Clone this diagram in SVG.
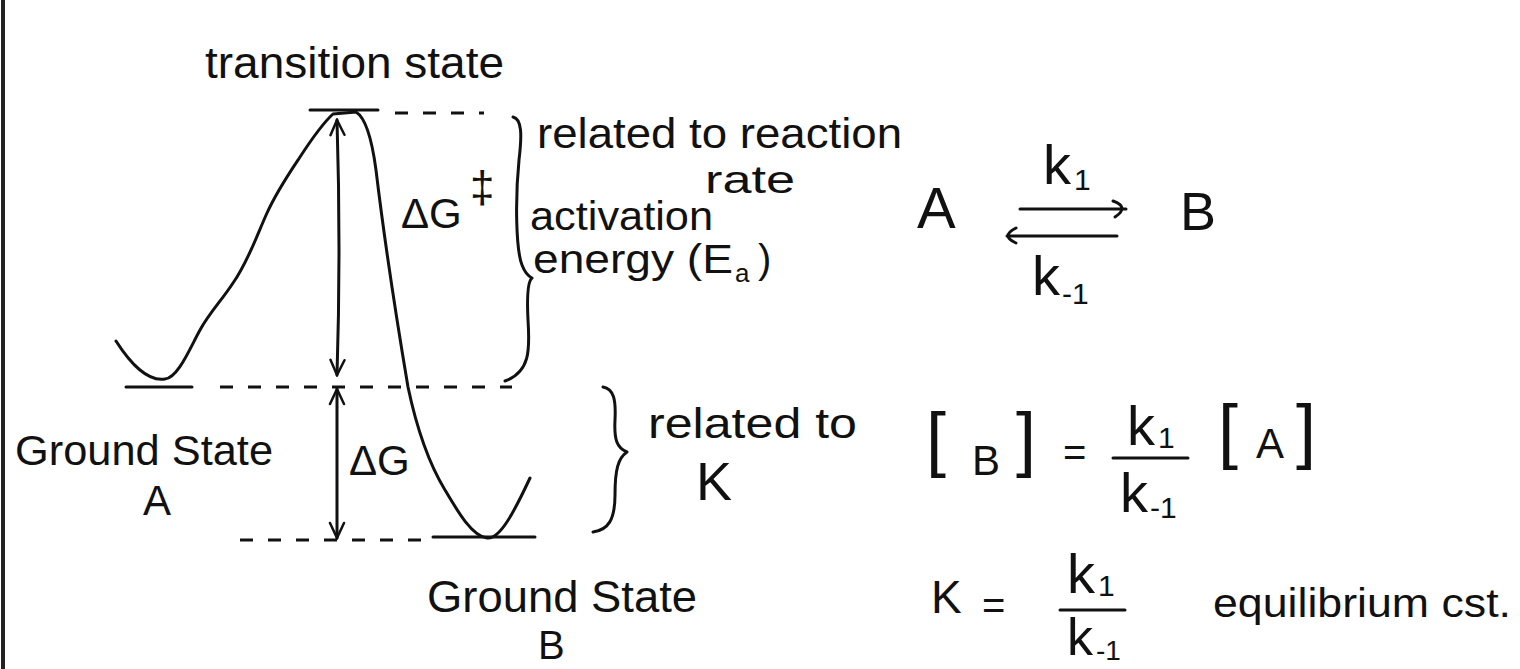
<svg xmlns="http://www.w3.org/2000/svg" width="1520" height="669" viewBox="0 0 1520 669">
<style>
.ln{fill:none;stroke:#111;stroke-width:3;stroke-linecap:round;stroke-linejoin:round}
.ds{fill:none;stroke:#111;stroke-width:3;stroke-dasharray:13 15}
text{font-family:"Liberation Sans",Arial,sans-serif;fill:#111}
</style>
<defs>
<marker id="ah" viewBox="0 0 20 20" refX="18" refY="10" markerWidth="20" markerHeight="20" markerUnits="userSpaceOnUse" orient="auto-start-reverse">
<path d="M3,3 L18,10 L3,17" fill="none" stroke="#111" stroke-width="2.5" stroke-linecap="round"/>
</marker>
</defs>
<rect width="1520" height="669" fill="#fff"/>
<line x1="3" y1="0" x2="3" y2="669" stroke="#222" stroke-width="4"/>

<g id="curve">
<path class="ln" d="M116,341 C130,363 148,382 165,379 C178,378 190,348 200,330 C210,312 222,300 233,283 C248,262 257,235 267,213 C277,191 288,175 300,157 C313,137 322,124 333,114 L356,112 C366,118 372,140 376,170 C382,220 395,310 408,387 C416,425 428,462 445,490 C458,512 472,536 487,538 C500,540 515,510 530,478"/>
</g>
<g id="levels">
<line class="ln" x1="310" y1="110" x2="378" y2="110"/>
<line class="ln" x1="126" y1="387" x2="192" y2="387"/>
<line class="ln" x1="433" y1="537" x2="535" y2="537"/>
<line class="ds" x1="395" y1="113" x2="484" y2="113"/>
<line class="ds" x1="220" y1="387" x2="512" y2="387"/>
<line class="ds" x1="240" y1="540" x2="436" y2="540"/>
</g>
<g id="connectors">
<path class="ln" d="M337,120 Q341,250 337,375" marker-start="url(#ah)" marker-end="url(#ah)"/>
<path class="ln" d="M337,389 L337,538" marker-start="url(#ah)" marker-end="url(#ah)"/>
<path class="ln" d="M1020,209 L1126,209 M1113,201 Q1130,207 1115,217"/>
<path class="ln" d="M1117,236 L1007,236 M1016,228 Q1000,236 1016,243"/>
</g>
<g id="braces">
<path class="ln" d="M513,117 C522,119 522,135 519,160 C515,200 516,250 522,265 C525,273 528,276 532,278 C527,282 527,300 528,320 C530,350 530,372 505,381"/>
<path class="ln" d="M603,387 C614,389 616,400 615,420 C614,440 617,448 627,452 C618,458 615,470 615,495 C615,520 608,530 593,532"/>
</g>

<g id="labels">
<text x="205" y="78" font-size="44" textLength="299" lengthAdjust="spacingAndGlyphs">transition state</text>
<text x="537" y="148" font-size="42" textLength="365" lengthAdjust="spacingAndGlyphs">related to reaction</text>
<text x="705" y="193" font-size="38" textLength="90" lengthAdjust="spacingAndGlyphs">rate</text>
<text x="530" y="230" font-size="40" textLength="183" lengthAdjust="spacingAndGlyphs">activation</text>
<text x="533" y="273" font-size="40" textLength="200" lengthAdjust="spacingAndGlyphs">energy (E</text>
<text x="735" y="282" font-size="26">a</text>
<text x="758" y="273" font-size="40">)</text>
<text x="401" y="228" font-size="42">ΔG</text>
<text x="470" y="202" font-size="44">‡</text>
<text x="15" y="465" font-size="42" textLength="258" lengthAdjust="spacingAndGlyphs">Ground State</text>
<text x="143" y="515" font-size="42">A</text>
<text x="349" y="475" font-size="42">ΔG</text>
<text x="648" y="438" font-size="42" textLength="209" lengthAdjust="spacingAndGlyphs">related to</text>
<text x="696" y="500" font-size="54">K</text>
<text x="427" y="612" font-size="44" textLength="270" lengthAdjust="spacingAndGlyphs">Ground State</text>
<text x="538" y="659" font-size="40">B</text>
</g>
<g id="equations">
<text x="917" y="228" font-size="58">A</text>
<text x="1180" y="230" font-size="54">B</text>
<text x="1043" y="184" font-size="56">k</text>
<text x="1074" y="190" font-size="30">1</text>
<text x="1032" y="295" font-size="56">k</text>
<text x="1062" y="304" font-size="30">-1</text>

<text x="926" y="463" font-size="72">[</text>
<text x="972" y="475" font-size="42">B</text>
<text x="1016" y="463" font-size="72">]</text>
<text x="1063" y="466" font-size="40">=</text>
<text x="1127" y="445" font-size="56">k</text>
<text x="1158" y="448" font-size="30">1</text>
<line class="ln" x1="1113" y1="458" x2="1188" y2="458"/>
<text x="1120" y="512" font-size="56">k</text>
<text x="1150" y="518" font-size="30">-1</text>
<text x="1218" y="455" font-size="72">[</text>
<text x="1256" y="458" font-size="42">A</text>
<text x="1296" y="455" font-size="72">]</text>

<text x="931" y="613" font-size="46">K</text>
<text x="982" y="619" font-size="40">=</text>
<text x="1067" y="593" font-size="56">k</text>
<text x="1098" y="596" font-size="30">1</text>
<line class="ln" x1="1060" y1="610" x2="1125" y2="610"/>
<text x="1067" y="655" font-size="52">k</text>
<text x="1096" y="660" font-size="28">-1</text>
<text x="1213" y="617" font-size="40" textLength="298" lengthAdjust="spacingAndGlyphs">equilibrium cst.</text>
</g>
</svg>
